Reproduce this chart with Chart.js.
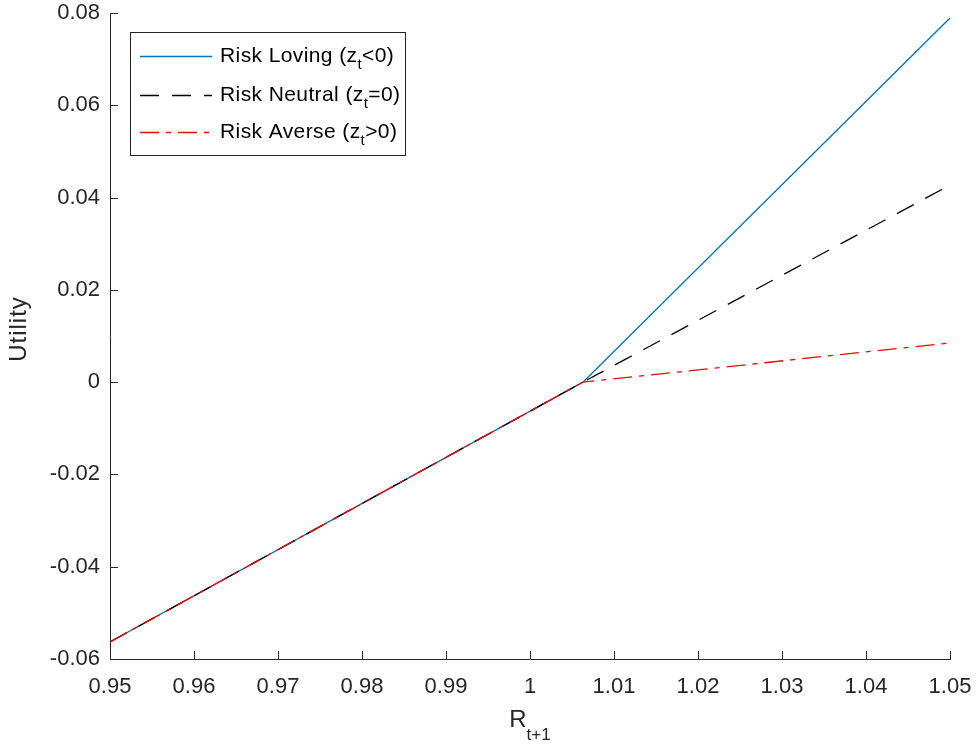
<!DOCTYPE html>
<html>
<head>
<meta charset="utf-8">
<script src="https://cdn.jsdelivr.net/npm/chart.js@4.4.1/dist/chart.umd.min.js"></script>
<style>
  html, body { margin: 0; padding: 0; background: #fff; }
  #wrap { width: 977px; height: 747px; }
</style>
</head>
<body>
<div id="wrap"><canvas id="utilityChart" width="977" height="747"></canvas></div>
<script>
const returnsLeft = [0.95, 1.0063];
const returnsRight = [1.0063, 1.05];
// utility at those returns
const lovingUtility = [-0.0563, 0, 0.0789];
const neutralUtility = [-0.0563, 0, 0.0427];
const averseUtility = [-0.0563, 0, 0.0085];
const xTicks = [0.95, 0.96, 0.97, 0.98, 0.99, 1, 1.01, 1.02, 1.03, 1.04, 1.05];
const yTicks = [-0.06, -0.04, -0.02, 0, 0.02, 0.04, 0.06, 0.08];

const returnsAll = [returnsLeft[0], returnsLeft[1], returnsRight[1]];
const toPoints = (ys) => ys.map((y, i) => ({ x: returnsAll[i], y: y }));

const axisColor = "#262626";
const fontFamily = "'Liberation Sans', Arial, Helvetica, sans-serif";

const series = [
  { name: "Risk Loving (z", sub: "t", tail: "<0)", data: lovingUtility, color: "#0072BD", dash: [], order: 2 },
  { name: "Risk Neutral (z", sub: "t", tail: "=0)", data: neutralUtility, color: "#000000", dash: [19, 13], order: 1 },
  { name: "Risk Averse (z", sub: "t", tail: ">0)", data: averseUtility, color: "#FF0000", dash: [19, 7, 5, 7], order: 0 },
];

const fmt = (v) => String(Number(v.toFixed(2)));

// MATLAB style ticks pointing into the axes
const inwardTicks = {
  id: "inwardTicks",
  afterDatasetsDraw(chart) {
    const { ctx, chartArea, scales } = chart;
    ctx.save();
    ctx.strokeStyle = axisColor;
    ctx.lineWidth = 1;
    ctx.beginPath();
    xTicks.forEach((t) => {
      const px = Math.round(scales.x.getPixelForValue(t)) + 0.5;
      ctx.moveTo(px, chartArea.bottom);
      ctx.lineTo(px, chartArea.bottom - 8);
    });
    yTicks.forEach((t) => {
      const py = Math.round(scales.y.getPixelForValue(t)) + 0.5;
      ctx.moveTo(chartArea.left, py);
      ctx.lineTo(chartArea.left + 8, py);
    });
    ctx.stroke();
    ctx.restore();
  },
};

// axis titles with subscripts
const axisTitles = {
  id: "axisTitles",
  afterDraw(chart) {
    const { ctx, chartArea } = chart;
    ctx.save();
    ctx.fillStyle = axisColor;
    ctx.textBaseline = "alphabetic";
    // x title: R_{t+1}
    ctx.font = "24px " + fontFamily;
    const wR = ctx.measureText("R").width;
    ctx.font = "17px " + fontFamily;
    const wS = ctx.measureText("t+1").width;
    const cx = (chartArea.left + chartArea.right) / 2;
    const x0 = cx - (wR + wS) / 2;
    ctx.font = "24px " + fontFamily;
    ctx.fillText("R", x0, 727);
    ctx.font = "17px " + fontFamily;
    ctx.fillText("t+1", x0 + wR, 740);
    // y title
    ctx.translate(26, (chartArea.top + chartArea.bottom) / 2 - 7);
    ctx.rotate(-Math.PI / 2);
    ctx.font = "24px " + fontFamily;
    ctx.letterSpacing = "1px";
    ctx.textAlign = "center";
    ctx.fillText("Utility", 0, 0);
    ctx.restore();
  },
};

// legend box
const legendBox = {
  id: "legendBox",
  afterDraw(chart) {
    const { ctx } = chart;
    ctx.save();
    ctx.fillStyle = "#fff";
    ctx.fillRect(130, 32, 275, 123);
    ctx.strokeStyle = axisColor;
    ctx.lineWidth = 1;
    ctx.strokeRect(130.5, 32.5, 275, 123);
    const rows = [56, 95, 132];
    ctx.letterSpacing = "0.4px";
    series.forEach((s, i) => {
      const y = rows[i];
      ctx.strokeStyle = s.color;
      ctx.lineWidth = 1.3;
      ctx.setLineDash(s.dash);
      ctx.beginPath();
      ctx.moveTo(140, y + 0.5);
      ctx.lineTo(212, y + 0.5);
      ctx.stroke();
      ctx.setLineDash([]);
      ctx.fillStyle = "#000";
      ctx.textBaseline = "middle";
      ctx.font = "21px " + fontFamily;
      let x = 220;
      ctx.fillText(s.name, x, y);
      x += ctx.measureText(s.name).width;
      ctx.font = "15px " + fontFamily;
      ctx.fillText(s.sub, x, y + 9);
      x += ctx.measureText(s.sub).width;
      ctx.font = "21px " + fontFamily;
      ctx.fillText(s.tail, x, y);
    });
    ctx.restore();
  },
};

new Chart(document.getElementById("utilityChart"), {
  type: "line",
  data: {
    datasets: series.map((s) => ({
      label: s.name + s.sub + s.tail,
      data: toPoints(s.data),
      borderColor: s.color,
      borderWidth: 1.3,
      borderDash: s.dash,
      pointRadius: 0,
      fill: false,
      tension: 0,
      order: s.order,
    })),
  },
  options: {
    responsive: false,
    animation: false,
    devicePixelRatio: 1,
    layout: { padding: { top: 13, right: 27, left: 0, bottom: 0 } },
    plugins: { legend: { display: false }, tooltip: { enabled: false } },
    scales: {
      x: {
        type: "linear",
        min: 0.95,
        max: 1.05,
        afterBuildTicks: (scale) => { scale.ticks = xTicks.map((v) => ({ value: v })); },
        afterFit: (scale) => {
          scale.height = 88;
          scale.paddingLeft = 0;
          scale.paddingRight = 0;
        },
        grid: { display: false, drawTicks: false },
        border: { display: true, color: axisColor, width: 1 },
        ticks: {
          color: axisColor,
          padding: 15,
          maxRotation: 0,
          autoSkip: false,
          font: { size: 22, family: fontFamily },
          callback: (v) => fmt(v),
        },
      },
      y: {
        type: "linear",
        min: -0.06,
        max: 0.08,
        afterBuildTicks: (scale) => { scale.ticks = yTicks.map((v) => ({ value: v })); },
        afterFit: (scale) => {
          scale.width = 110;
          scale.paddingTop = 0;
          scale.paddingBottom = 0;
        },
        grid: { display: false, drawTicks: false },
        border: { display: true, color: axisColor, width: 1 },
        ticks: {
          color: axisColor,
          padding: 10,
          autoSkip: false,
          font: { size: 22, family: fontFamily },
          callback: (v) => fmt(v),
        },
      },
    },
  },
  plugins: [inwardTicks, axisTitles, legendBox],
});
</script>
</body>
</html>
